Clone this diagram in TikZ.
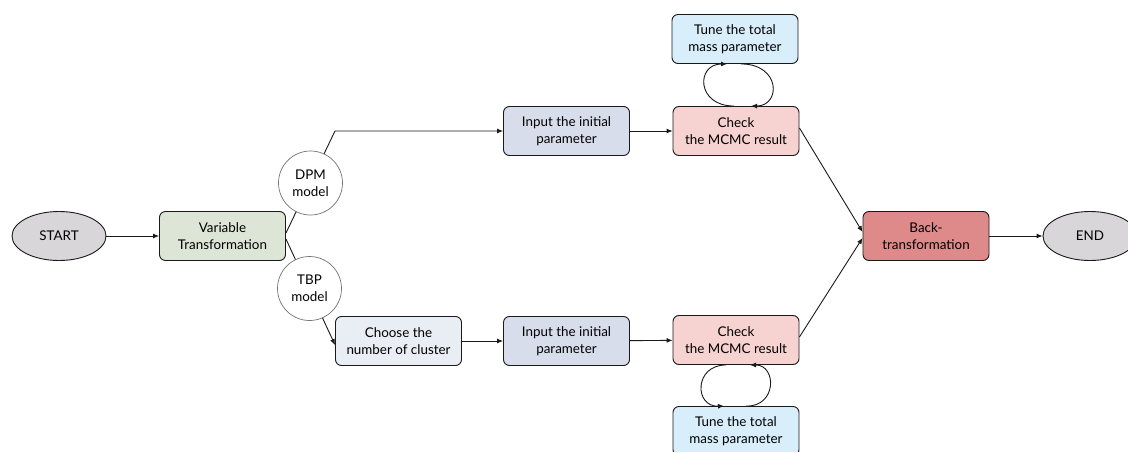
\documentclass[tikz,border=0pt]{standalone}
\usepackage{fontspec}
\setmainfont{Lato}
\usetikzlibrary{arrows.meta,shapes.geometric}
\definecolor{cgray}{HTML}{D8D6D8}
\definecolor{cgreen}{HTML}{DDE6D6}
\definecolor{cinput}{HTML}{D7DDEA}
\definecolor{cchoose}{HTML}{E9EDF4}
\definecolor{ccheck}{HTML}{F6D2D0}
\definecolor{ctune}{HTML}{D8EEFB}
\definecolor{cback}{HTML}{DF8A8A}
\definecolor{cline}{HTML}{1A1A1A}
\tikzset{
  txt/.style={font=\fontsize{13.4}{17}\selectfont},
  box/.style={txt, draw=cline, line width=0.9pt, rounded corners=6pt, minimum width=126pt, minimum height=49pt, align=center, inner sep=2pt},
  term/.style={txt, draw=cline, line width=0.9pt, ellipse, fill=cgray, minimum width=94pt, minimum height=49pt},
  model/.style={txt, draw=black!55, line width=0.7pt, circle, fill=white, minimum size=64pt, align=center, inner sep=0pt},
  conn/.style={draw=cline, line width=0.9pt, -{Latex[length=6pt,width=5pt]}},
}
\begin{document}
\begin{tikzpicture}[x=1pt,y=-1pt]
\useasboundingbox[fill=white] (0,0) rectangle (1128,452);
\node[term] (start) at (59,236) {START};
\node[box, fill=cgreen] (vt) at (222.5,236) {Variable\\Transformation};
\node[box, fill=cinput] (in1) at (566.5,131) {Input the initial\\parameter};
\node[box, fill=ccheck] (ch1) at (736,131) {Check\\the MCMC result};
\node[box, fill=ctune] (tu1) at (735,39) {Tune the total\\mass parameter};
\node[box, fill=cchoose] (cho) at (398.5,341) {Choose the\\number of cluster};
\node[box, fill=cinput] (in2) at (566.5,341) {Input the initial\\parameter};
\node[box, fill=ccheck] (ch2) at (736,340) {Check\\the MCMC result};
\node[box, fill=ctune] (tu2) at (736,431) {Tune the total\\mass parameter};
\node[box, fill=cback] (back) at (926,236) {Back-\\transformation};
\node[term] (end) at (1090,236) {END};
\coordinate (bend) at (335,131);

\draw[conn] (start) -- (vt);
\draw[conn] ([yshift=3pt]vt.east) -- (bend) -- (in1.west);
\draw[conn] ([yshift=-3pt]vt.east) -- ([yshift=-4pt]cho.west);
\node[model] (dpm) at (310.5,183) {DPM\\model};
\node[model] (tbp) at (309.5,288.5) {TBP\\model};
\draw[conn] (in1) -- (ch1);
\draw[conn] (cho) -- (in2);
\draw[conn] (in2) -- (ch2);
\draw[conn] ([yshift=3pt]ch1.east) -- ([yshift=4pt]back.west);
\draw[conn] ([yshift=3pt]ch2.east) -- ([yshift=-2pt]back.west);
\draw[conn] (back) -- (end);
% top loop
\draw[conn] ([xshift=-2pt]ch1.north) .. controls (696,106) and (696,64) .. ([xshift=-8pt]tu1.south);
\draw[conn] ([xshift=6pt]tu1.south) .. controls (781,64) and (781,106) .. ([xshift=15pt]ch1.north);
% bottom loop
\draw[conn] ([xshift=-10pt]ch2.south) .. controls (694,365) and (694,407) .. ([xshift=-12pt]tu2.north);
\draw[conn] ([xshift=10pt]tu2.north) .. controls (777,407) and (777,365) .. ([xshift=14pt]ch2.south);
\end{tikzpicture}
\end{document}
